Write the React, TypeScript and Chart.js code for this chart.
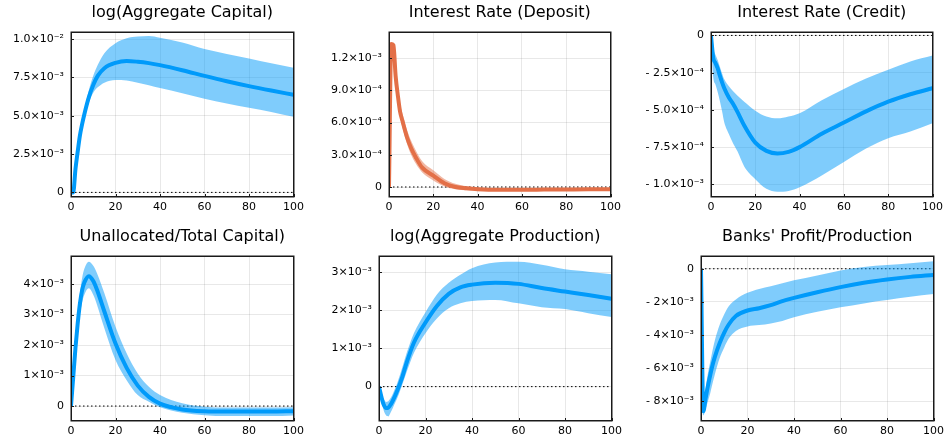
import React, { useEffect, useRef } from "react";
import { Chart, registerables } from "chart.js";

Chart.register(...registerables);

// horizon (quarters) at which values were read
const STEPS = [0, 1, 2, 3, 4, 5, 6, 8, 10, 12, 15, 20, 25, 30, 35, 40, 50, 60, 70, 80, 90, 100];
const X_TICKS = [0, 20, 40, 60, 80, 100];

// log(Aggregate Capital), units of 1e-3
const CAPITAL_MEAN = [0, 0, 1.5, 2.65, 3.7, 4.45, 5.1, 6.2, 7.0, 7.6, 8.1, 8.45, 8.57, 8.52, 8.43, 8.3, 7.97, 7.6, 7.25, 6.93, 6.64, 6.37];
const CAPITAL_UPPER = [0, 0, 1.55, 2.75, 3.85, 4.7, 5.4, 6.65, 7.6, 8.3, 9.07, 9.72, 10.05, 10.16, 10.2, 10.09, 9.77, 9.35, 9.03, 8.74, 8.42, 8.13];
const CAPITAL_LOWER = [0, 0, 1.45, 2.55, 3.55, 4.25, 4.85, 5.85, 6.5, 6.85, 7.15, 7.33, 7.3, 7.15, 6.98, 6.8, 6.46, 6.1, 5.8, 5.52, 5.25, 4.93];

// Interest Rate (Deposit), units of 1e-4
const DEPOSIT_MEAN = [0, 13.3, 13.2, 10.3, 8.5, 7.0, 6.2, 4.7, 3.6, 2.8, 1.8, 1.05, 0.35, 0.0, -0.12, -0.2, -0.25, -0.25, -0.24, -0.23, -0.22, -0.22];
const DEPOSIT_UPPER = [0, 13.4, 13.4, 10.8, 9.1, 7.7, 6.9, 5.4, 4.3, 3.45, 2.4, 1.55, 0.75, 0.3, 0.08, -0.05, -0.13, -0.15, -0.15, -0.14, -0.13, -0.12];
const DEPOSIT_LOWER = [0, 13.2, 12.9, 9.9, 8.0, 6.5, 5.6, 4.1, 3.0, 2.2, 1.35, 0.6, 0.05, -0.2, -0.3, -0.35, -0.37, -0.36, -0.34, -0.33, -0.32, -0.32];

// Interest Rate (Credit), units of 1e-4
const CREDIT_MEAN = [0, -1.5, -1.85, -2.2, -2.7, -3.15, -3.55, -4.15, -4.6, -5.15, -6.05, -7.2, -7.75, -7.93, -7.82, -7.5, -6.6, -5.85, -5.1, -4.45, -3.95, -3.55];
const CREDIT_UPPER = [0, -0.9, -1.3, -1.65, -2.1, -2.55, -2.95, -3.4, -3.75, -4.05, -4.45, -5.05, -5.45, -5.57, -5.45, -5.23, -4.35, -3.6, -2.9, -2.3, -1.75, -1.35];
const CREDIT_LOWER = [0, -2.8, -3.3, -3.8, -4.4, -5.1, -5.85, -6.6, -7.25, -7.8, -8.8, -9.65, -10.3, -10.5, -10.45, -10.2, -9.4, -8.5, -7.6, -6.9, -6.45, -5.9];

// Unallocated/Total Capital, units of 1e-3
const UNALLOC_MEAN = [0, 0.95, 1.9, 2.7, 3.35, 3.8, 4.05, 4.26, 4.1, 3.75, 3.1, 2.05, 1.25, 0.67, 0.3, 0.08, -0.11, -0.17, -0.18, -0.18, -0.18, -0.17];
const UNALLOC_UPPER = [0, 1.05, 2.05, 2.95, 3.7, 4.2, 4.5, 4.73, 4.6, 4.3, 3.7, 2.6, 1.73, 1.07, 0.63, 0.36, 0.09, -0.02, -0.05, -0.05, -0.05, -0.04];
const UNALLOC_LOWER = [0, 0.9, 1.75, 2.45, 3.0, 3.4, 3.65, 3.86, 3.65, 3.25, 2.55, 1.51, 0.85, 0.36, 0.14, -0.04, -0.22, -0.3, -0.33, -0.33, -0.33, -0.31];

// log(Aggregate Production), units of 1e-3
const PROD_MEAN = [0, -0.26, -0.47, -0.56, -0.55, -0.47, -0.36, -0.08, 0.25, 0.65, 1.15, 1.68, 2.12, 2.43, 2.6, 2.67, 2.72, 2.69, 2.58, 2.49, 2.4, 2.3];
const PROD_UPPER = [0, -0.18, -0.32, -0.4, -0.38, -0.3, -0.18, 0.12, 0.5, 0.9, 1.4, 1.95, 2.42, 2.72, 2.93, 3.1, 3.25, 3.27, 3.19, 3.07, 3.01, 2.94];
const PROD_LOWER = [0, -0.35, -0.62, -0.75, -0.78, -0.68, -0.55, -0.28, 0.05, 0.4, 0.88, 1.4, 1.79, 2.05, 2.18, 2.24, 2.27, 2.18, 2.08, 2.03, 1.92, 1.82];

// Banks' Profit/Production, units of 1e-3
const PROFIT_MEAN = [0, -8.6, -7.8, -7.05, -6.4, -5.8, -5.3, -4.5, -3.85, -3.35, -2.85, -2.52, -2.38, -2.2, -1.95, -1.76, -1.42, -1.11, -0.85, -0.65, -0.49, -0.37];
const PROFIT_UPPER = [0, -8.2, -7.2, -6.3, -5.6, -4.9, -4.3, -3.4, -2.75, -2.25, -1.85, -1.45, -1.22, -1.05, -0.88, -0.7, -0.4, -0.1, 0.11, 0.22, 0.33, 0.46];
const PROFIT_LOWER = [0, -8.85, -8.45, -8.0, -7.5, -6.9, -6.35, -5.4, -4.75, -4.2, -3.75, -3.48, -3.4, -3.3, -3.15, -2.93, -2.6, -2.33, -2.09, -1.89, -1.69, -1.53];

// y tick values and labels
const CAPITAL_TICKS = [0, 0.0025, 0.005, 0.0075, 0.01];
const CAPITAL_LABELS = ["0", "2.5×10⁻³", "5.0×10⁻³", "7.5×10⁻³", "1.0×10⁻²"];
const DEPOSIT_TICKS = [0, 0.0003, 0.0006, 0.0009, 0.0012];
const DEPOSIT_LABELS = ["0", "3.0×10⁻⁴", "6.0×10⁻⁴", "9.0×10⁻⁴", "1.2×10⁻³"];
const CREDIT_TICKS = [0, -0.00025, -0.0005, -0.00075, -0.001];
const CREDIT_LABELS = ["0", "- 2.5×10⁻⁴", "- 5.0×10⁻⁴", "- 7.5×10⁻⁴", "- 1.0×10⁻³"];
const UNALLOC_TICKS = [0, 0.001, 0.002, 0.003, 0.004];
const UNALLOC_LABELS = ["0", "1×10⁻³", "2×10⁻³", "3×10⁻³", "4×10⁻³"];
const PROD_TICKS = [0, 0.001, 0.002, 0.003];
const PROD_LABELS = ["0", "1×10⁻³", "2×10⁻³", "3×10⁻³"];
const PROFIT_TICKS = [0, -0.002, -0.004, -0.006, -0.008];
const PROFIT_LABELS = ["0", "- 2×10⁻³", "- 4×10⁻³", "- 6×10⁻³", "- 8×10⁻³"];

const TITLES = [
  "log(Aggregate Capital)",
  "Interest Rate (Deposit)",
  "Interest Rate (Credit)",
  "Unallocated/Total Capital)",
  "log(Aggregate Production)",
  "Banks' Profit/Production",
];

const BLUE = "#009AFA";
const BLUE_BAND = "rgba(0,154,250,0.5)";
const ORANGE = "#E36F47";
const ORANGE_BAND = "rgba(227,111,71,0.5)";
const FONT = "DejaVu Sans";

type Panel = {
  title: string;
  mean: number[];
  upper: number[];
  lower: number[];
  unit: number;
  ticks: number[];
  labels: string[];
  yMin: number;
  yMax: number;
  color: string;
  band: string;
  box: { left: number; top: number; right: number; bottom: number };
};

const PANELS: Panel[] = [
  { title: TITLES[0], mean: CAPITAL_MEAN, upper: CAPITAL_UPPER, lower: CAPITAL_LOWER, unit: 1e-3, ticks: CAPITAL_TICKS, labels: CAPITAL_LABELS, yMin: -0.0003, yMax: 0.01046, color: BLUE, band: BLUE_BAND, box: { left: 71, top: 32, right: 296, bottom: 197 } },
  { title: TITLES[1], mean: DEPOSIT_MEAN, upper: DEPOSIT_UPPER, lower: DEPOSIT_LOWER, unit: 1e-4, ticks: DEPOSIT_TICKS, labels: DEPOSIT_LABELS, yMin: -0.000093, yMax: 0.001442, color: ORANGE, band: ORANGE_BAND, box: { left: 389, top: 32, right: 613, bottom: 197 } },
  { title: TITLES[2], mean: CREDIT_MEAN, upper: CREDIT_UPPER, lower: CREDIT_LOWER, unit: 1e-4, ticks: CREDIT_TICKS, labels: CREDIT_LABELS, yMin: -0.001085, yMax: 0.000023, color: BLUE, band: BLUE_BAND, box: { left: 711, top: 32, right: 935, bottom: 197 } },
  { title: TITLES[3], mean: UNALLOC_MEAN, upper: UNALLOC_UPPER, lower: UNALLOC_LOWER, unit: 1e-3, ticks: UNALLOC_TICKS, labels: UNALLOC_LABELS, yMin: -0.00049, yMax: 0.00492, color: BLUE, band: BLUE_BAND, box: { left: 71, top: 256, right: 296, bottom: 421 } },
  { title: TITLES[4], mean: PROD_MEAN, upper: PROD_UPPER, lower: PROD_LOWER, unit: 1e-3, ticks: PROD_TICKS, labels: PROD_LABELS, yMin: -0.0009, yMax: 0.00342, color: BLUE, band: BLUE_BAND, box: { left: 379, top: 256, right: 614, bottom: 421 } },
  { title: TITLES[5], mean: PROFIT_MEAN, upper: PROFIT_UPPER, lower: PROFIT_LOWER, unit: 1e-3, ticks: PROFIT_TICKS, labels: PROFIT_LABELS, yMin: -0.00919, yMax: 0.00077, color: BLUE, band: BLUE_BAND, box: { left: 701, top: 256, right: 936, bottom: 421 } },
];

const LEFT_W = 71;
const TITLE_H = 32;
const BOTTOM_H = 24;
const RIGHT_PAD = 12;

const framePlugin = {
  id: "frame",
  afterDraw(chart: any) {
    const { ctx, chartArea, scales } = chart;
    const l = Math.round(chartArea.left);
    const t = Math.round(chartArea.top);
    const r = Math.round(chartArea.right);
    const b = Math.round(chartArea.bottom);
    ctx.save();
    ctx.strokeStyle = "#1a1a1a";
    ctx.lineWidth = 1;
    // inward tick marks on left and bottom axes
    ctx.beginPath();
    scales.y.ticks.forEach((tk: any) => {
      const y = Math.round(scales.y.getPixelForValue(tk.value)) + 0.5;
      ctx.moveTo(l, y);
      ctx.lineTo(l + 3, y);
    });
    scales.x.ticks.forEach((tk: any) => {
      const x = Math.round(scales.x.getPixelForValue(tk.value)) + 0.5;
      ctx.moveTo(x, b);
      ctx.lineTo(x, b - 3);
    });
    ctx.stroke();
    ctx.lineWidth = 1.5;
    ctx.strokeRect(l + 0.25, t + 0.25, r - l - 0.5, b - t - 0.5);
    ctx.restore();
  },
};

function PanelChart({ p }: { p: Panel }) {
  const ref = useRef<HTMLCanvasElement>(null);
  const w = p.box.right - p.box.left + LEFT_W + RIGHT_PAD;
  const h = p.box.bottom - p.box.top + TITLE_H + BOTTOM_H;
  useEffect(() => {
    if (!ref.current) return;
    const pts = (arr: number[]) => STEPS.map((x, i) => ({ x, y: arr[i] * p.unit }));
    const chart = new Chart(ref.current, {
      type: "line",
      data: {
        datasets: [
          {
            data: pts(p.mean),
            borderColor: p.color,
            borderWidth: 4,
            pointRadius: 0,
            fill: false,
            cubicInterpolationMode: "monotone",
            order: 0,
          },
          {
            data: pts(p.lower),
            borderWidth: 0,
            borderColor: "rgba(0,0,0,0)",
            pointRadius: 0,
            fill: false,
            cubicInterpolationMode: "monotone",
            order: 1,
          },
          {
            data: pts(p.upper),
            borderWidth: 0,
            borderColor: "rgba(0,0,0,0)",
            backgroundColor: p.band,
            pointRadius: 0,
            fill: "-1",
            cubicInterpolationMode: "monotone",
            order: 1,
          },
          {
            data: [
              { x: STEPS[0], y: 0 },
              { x: STEPS[STEPS.length - 1], y: 0 },
            ],
            borderColor: "#000",
            borderWidth: 1,
            borderDash: [1.5, 2.5],
            pointRadius: 0,
            fill: false,
            order: 2,
          },
        ],
      } as any,
      options: {
        animation: false,
        responsive: false,
        events: [],
        layout: { padding: { left: 0, right: RIGHT_PAD, top: 0, bottom: 0 } },
        plugins: {
          legend: { display: false },
          tooltip: { enabled: false },
          title: {
            display: true,
            text: p.title,
            color: "#000",
            fullSize: false,
            font: { family: FONT, size: 16, weight: "normal" as any, lineHeight: 1.2 },
            padding: { top: 3.5, bottom: 9.3 },
          },
        },
        scales: {
          x: {
            type: "linear",
            min: 0,
            max: 100,
            afterFit: (s: any) => {
              s.height = BOTTOM_H;
            },
            afterBuildTicks: (s: any) => {
              s.ticks = X_TICKS.map((v) => ({ value: v }));
            },
            ticks: {
              autoSkip: false,
              maxRotation: 0,
              color: "#000",
              padding: 4,
              font: { family: FONT, size: 11 },
              callback: (v: any, i: number) => String(X_TICKS[i]),
            },
            grid: { color: "rgba(0,0,0,0.09)", drawTicks: false, lineWidth: 1 },
            border: { display: false },
          },
          y: {
            type: "linear",
            min: p.yMin,
            max: p.yMax,
            afterFit: (s: any) => {
              s.width = LEFT_W;
            },
            afterBuildTicks: (s: any) => {
              s.ticks = p.ticks.map((v) => ({ value: v }));
            },
            ticks: {
              autoSkip: false,
              color: "#000",
              padding: 7,
              font: { family: FONT, size: 11 },
              callback: (v: any, i: number) => p.labels[i],
            },
            grid: { color: "rgba(0,0,0,0.09)", drawTicks: false, lineWidth: 1 },
            border: { display: false },
          },
        },
      } as any,
      plugins: [framePlugin],
    });
    return () => chart.destroy();
  }, [p]);
  return (
    <canvas
      ref={ref}
      width={w}
      height={h}
      style={{
        position: "absolute",
        left: p.box.left - LEFT_W,
        top: p.box.top - TITLE_H,
        width: w,
        height: h,
      }}
    />
  );
}

export default function App() {
  return (
    <div
      style={{
        position: "fixed",
        left: 0,
        top: 0,
        width: 949,
        height: 445,
        background: "#fff",
        overflow: "hidden",
      }}
    >
      {PANELS.map((p, i) => (
        <PanelChart key={i} p={p} />
      ))}
    </div>
  );
}
